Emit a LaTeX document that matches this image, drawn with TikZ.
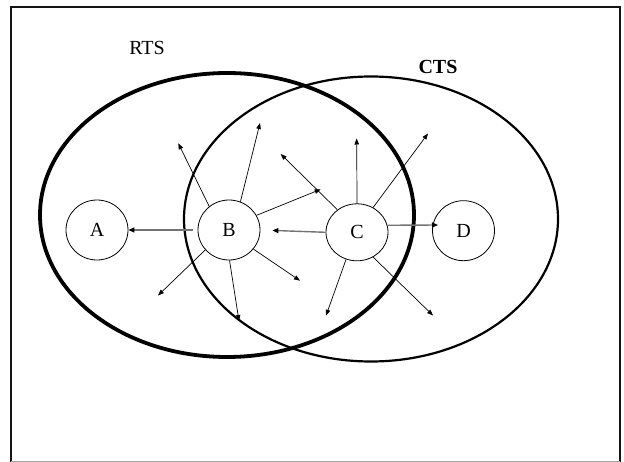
\documentclass[tikz,border=0pt]{standalone}
\usepackage{fontspec}
\setmainfont{Liberation Serif}
\usetikzlibrary{positioning,shapes.geometric,arrows.meta}

\begin{document}
\begin{tikzpicture}[x=1pt,y=-1pt,
	station/.style={draw, ellipse, line width=0.8pt, minimum width=62pt, minimum height=60pt, inner sep=0pt, font=\fontsize{20}{24}\selectfont},
	ray/.style={line width=0.7pt, -{Triangle[length=6pt,width=4.5pt]}},
	relay/.style={draw=black!55, line width=1.4pt, -{Triangle[length=6pt,width=5pt,color=black]}}]
	\useasboundingbox (0,0) rectangle (624,462);
	\draw[line width=2.5pt, black!92] (11.2,462) -- (11.2,7) -- (620,7) -- (620,462);
	\draw[black!35, line width=1pt] (11.2,461.5) -- (620,461.5);

	% ranges
	\draw[line width=3.8pt] (227,215) ellipse [x radius=187pt, y radius=142pt];
	\draw[line width=2.2pt] (371,219) ellipse [x radius=187pt, y radius=142.5pt];
	\node[font=\fontsize{20}{24}\selectfont, anchor=base] (rts) at (147,54.3) {RTS};
	\node[font=\fontsize{20}{24}\selectfont\bfseries, anchor=base] (cts) at (438,74) {CTS};

	% stations
	\node[station, on grid] (A) at (97,230) {A};
	\node[station, on grid, right=132pt of A] (B) {B};
	\node[station, on grid, minimum height=57pt] (C) at (357,232.3) {C};
	\node[station, on grid, right=106.5pt of C, yshift=1.6pt] (D) {D};

	\coordinate (bnw) at (178.3,143.3);
	\coordinate (bn) at (260,123);
	\coordinate (bne) at (320.7,189.3);
	\coordinate (bse) at (300,280.7);
	\coordinate (bs) at (239,321);
	\coordinate (bsw) at (158,295.5);
	\coordinate (cnw) at (280.7,154);
	\coordinate (cn) at (356.7,138.5);
	\coordinate (cne) at (428,133.5);
	\coordinate (cse) at (433,315.5);
	\coordinate (csw) at (326,315.7);
	\coordinate (cd) at (438,225);

	\draw[relay, shorten <=5pt] (B.west) -- (A.east);
	\draw[relay, shorten >=12pt] (C.west) -- (B.east);
	\draw[relay] (C.13) -- (cd);

	\draw[ray] (B.130) -- (bnw);
	\draw[ray] (B.68) -- (bn);
	\draw[ray] (B.28) -- (bne);
	\draw[ray] (B.-38) -- (bse);
	\draw[ray] (B.-89) -- (bs);
	\draw[ray] (B.-140) -- (bsw);
	\draw[ray] (C.131) -- (cnw);
	\draw[ray] (C.90) -- (cn);
	\draw[ray] (C.57) -- (cne);
	\draw[ray] (C.-57) -- (cse);
	\draw[ray] (C.-112) -- (csw);
\end{tikzpicture}
\end{document}
